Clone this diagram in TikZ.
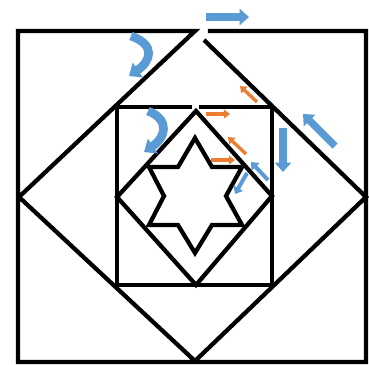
\documentclass[tikz,border=0pt]{standalone}
\usepackage{tikz}
\usetikzlibrary{arrows.meta}

\definecolor{arrowblue}{RGB}{91,155,213}
\definecolor{arroworange}{RGB}{237,125,49}

\begin{document}
\begin{tikzpicture}[x=0.75pt, y=-0.75pt,
    frame/.style={line width=3.2pt, line join=miter},
    bigblue/.style={arrowblue, line width=5.5pt, -{Triangle[length=7pt, width=12pt]}},
    bendblue/.style={arrowblue, line width=6.5pt, -{Triangle[length=8pt, width=13pt]}},
    smallblue/.style={arrowblue, line width=3pt, -{Triangle[length=5pt, width=8pt]}},
    orangearr/.style={arroworange, line width=2.5pt, -{Triangle[length=4.5pt, width=6.5pt]}}]

    \useasboundingbox (0,0) rectangle (369,365);

    % Outer square (open at the top) and big diamond
    \draw[frame] (204,40) -- (366,197) -- (195,361) -- (19,197) -- (195,31)
        -- (18,31) -- (18,362) -- (366,362) -- (366,31) -- (208,31);

    % Inner square (open at the top)
    \draw[frame] (199,107) -- (272,107) -- (272,285) -- (117,285) -- (117,107) -- (192,107);

    % Inner diamond
    \draw[frame] (196,111) -- (117,197) -- (196,285) -- (272,196) -- cycle;

    % Star
    \draw[frame] (195,138) -- (212,167) -- (242,167) -- (226,196) -- (242,225)
        -- (212,225) -- (195,253) -- (178,225) -- (149,225) -- (164,196)
        -- (149,167) -- (178,167) -- cycle;

    % Blue arrows
    \draw[bigblue] (206,17) -- (249,17);
    \draw[bendblue] (131,36) .. controls (156,45) and (151,61) .. (129,76);
    \draw[bendblue] (148,111) .. controls (171,120) and (165,138) .. (144,152);
    \draw[bigblue] (283,128) -- (283,172);
    \draw[bigblue] (335,146) -- (303,114);
    \draw[smallblue] (268,180) -- (251,162);
    \draw[smallblue] (247,173) -- (235,194);

    % Orange arrows
    \draw[orangearr] (257,102) -- (240,86);
    \draw[orangearr] (206,114) -- (230,114);
    \draw[orangearr] (246,154) -- (228,137);
    \draw[orangearr] (211,160) -- (235,160);

\end{tikzpicture}
\end{document}
